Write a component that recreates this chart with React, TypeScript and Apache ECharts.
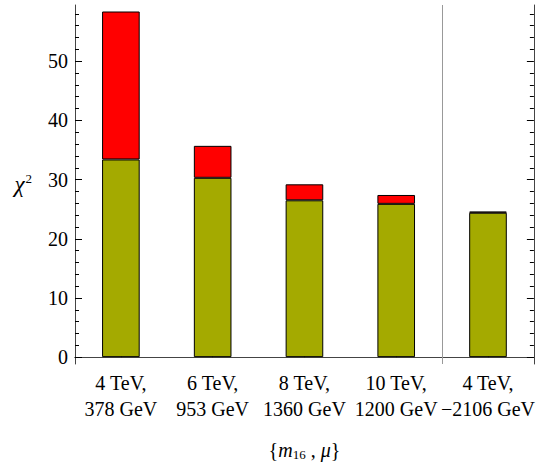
import React, { useEffect, useRef } from "react";
import * as echarts from "echarts";

const categories = [
  "4 TeV,\n378 GeV",
  "6 TeV,\n953 GeV",
  "8 TeV,\n1360 GeV",
  "10 TeV,\n1200 GeV",
  "4 TeV,\n\u22122106 GeV",
];
const baseChi2 = [33.4, 30.3, 26.5, 25.9, 24.4];
const extraChi2 = [25.0, 5.4, 2.7, 1.5, 0.2];
const majorTicks = [0, 10, 20, 30, 40, 50];
const minorTicks = [2, 4, 6, 8, 12, 14, 16, 18, 22, 24, 26, 28, 32, 34, 36, 38, 42, 44, 46, 48, 52, 54, 56, 58];
const separatorAfter = 4; // boundary after the 4th category
const yMin = -1.16;
const yMax = 59.5;

const FONT = "Liberation Serif";
const FRAME = "#444";

export default function App() {
  const ref = useRef<HTMLDivElement>(null);
  useEffect(() => {
    if (!ref.current) return;
    const chart = echarts.init(ref.current, undefined, { renderer: "svg" });
    const yBase = (pos: string, ticks: number[], len: number, line: boolean, labels: boolean, name?: any) => ({
      type: "value",
      position: pos,
      min: yMin,
      max: yMax,
      gridIndex: 0,
      splitLine: { show: false },
      axisLine: { show: line, lineStyle: { color: FRAME, width: 1 } },
      axisTick: { show: true, inside: true, length: len, customValues: ticks, lineStyle: { color: "#000", width: 1 } },
      axisLabel: labels
        ? { show: true, customValues: ticks, color: "#000", fontFamily: FONT, fontSize: 20, margin: 7 }
        : { show: false },
      ...(name || {}),
    });
    chart.setOption({
      animation: false,
      grid: { left: 75, right: 4, top: 5, bottom: 93, containLabel: false },
      xAxis: [
        {
          type: "category",
          data: categories,
          position: "bottom",
          axisLine: { show: true, lineStyle: { color: FRAME, width: 1 } },
          axisTick: { show: true, inside: true, length: 5, alignWithLabel: true, lineStyle: { color: "#000" } },
          axisLabel: {
            interval: 0,
            color: "#000",
            fontFamily: FONT,
            fontSize: 20,
            lineHeight: 26,
            margin: 6,
          },
          splitLine: { show: false },
          name: "{{i|m}{sub|16} , {i|\u03bc}}",
          nameLocation: "middle",
          nameGap: 74,
          nameTextStyle: {
            color: "#000",
            fontFamily: FONT,
            fontSize: 20,
            rich: {
              i: { fontFamily: FONT, fontSize: 20, fontStyle: "italic", color: "#000" },
              sub: { fontFamily: FONT, fontSize: 13, color: "#000", padding: [10, 0, 0, 0] },
            },
          },
        },
        {
          type: "category",
          data: categories,
          position: "top",
          axisLine: { show: true, lineStyle: { color: FRAME, width: 1 } },
          axisTick: { show: false },
          axisLabel: { show: false },
          splitLine: { show: false },
        },
        {
          type: "value",
          min: 0,
          max: categories.length,
          show: false,
        },
      ],
      yAxis: [
        yBase("left", majorTicks, 7, true, true, {
          name: "{i|\u03c7}{sup|2}",
          nameLocation: "middle",
          nameRotate: 0,
          nameGap: 43,
          nameTextStyle: {
            color: "#000",
            fontFamily: FONT,
            fontSize: 20,
            rich: {
              i: { fontFamily: FONT, fontSize: 23, fontStyle: "italic", color: "#000" },
              sup: { fontFamily: FONT, fontSize: 13, color: "#000", padding: [0, 0, 12, 1] },
            },
          },
        }),
        yBase("left", minorTicks, 4, false, false),
        yBase("right", majorTicks, 7, true, false),
        yBase("right", minorTicks, 4, false, false),
      ],
      series: [
        {
          type: "bar",
          stack: "chi",
          xAxisIndex: 0,
          yAxisIndex: 0,
          data: baseChi2,
          barWidth: "41%",
          itemStyle: { color: "#a4aa00", borderColor: "#000", borderWidth: 1 },
        },
        {
          type: "bar",
          stack: "chi",
          xAxisIndex: 0,
          yAxisIndex: 0,
          data: extraChi2,
          barWidth: "41%",
          itemStyle: { color: "#ff0000", borderColor: "#000", borderWidth: 1 },
        },
        {
          type: "line",
          xAxisIndex: 2,
          yAxisIndex: 0,
          data: [],
          silent: true,
          markLine: {
            silent: true,
            symbol: ["none", "none"],
            label: { show: false },
            lineStyle: { color: "#999", width: 1, type: "solid" },
            data: [{ xAxis: separatorAfter }],
          },
        },
      ],
    });
    return () => chart.dispose();
  }, []);
  return <div ref={ref} style={{ width: 538, height: 466, position: "absolute", left: 0, top: 0 }} />;
}
